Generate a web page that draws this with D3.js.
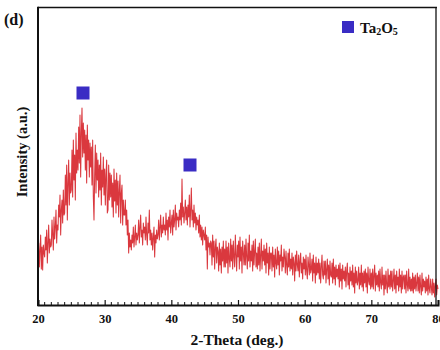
<!DOCTYPE html>
<html>
<head>
<meta charset="utf-8">
<script src="https://cdn.jsdelivr.net/npm/d3@7"></script>
<style>
  html, body { margin: 0; padding: 0; background: #fff; }
  svg { display: block; }
  text { font-family: "Liberation Serif", "Times New Roman", serif; font-weight: bold; fill: #111; }
</style>
</head>
<body>
<script>
// ---- data ----
const thetaStart = 20, thetaEnd = 80, thetaStep = 0.1;
const xTicks = [20, 30, 40, 50, 60, 70, 80];
const intensity = [
  45,62,38,55,70,36,58,35,60,52,
  48,68,55,75,42,62,80,52,66,58,
  60,85,70,55,88,66,78,95,62,80,
  75,100,88,110,70,95,105,82,115,90,
  92,130,100,140,85,122,145,100,132,112,
  115,155,108,165,125,150,105,172,132,155,
  135,178,142,190,128,172,197,148,182,152,
  175,135,170,122,180,145,165,128,162,138,
  158,120,165,108,85,130,160,112,152,125,
  145,108,140,115,152,100,135,118,148,110,
  136,100,130,145,92,95,140,105,132,108,
  130,98,122,88,136,104,125,92,132,100,
  124,88,115,130,82,112,120,80,105,90,
  90,105,80,95,70,85,52,72,58,65,
  55,70,62,78,58,68,80,60,72,65,
  70,85,62,78,90,68,75,60,82,72,
  78,65,88,70,60,82,72,95,65,75,
  60,72,55,68,78,48,70,62,75,66,
  70,85,65,78,90,68,80,72,88,75,
  80,70,92,75,85,65,88,78,95,72,
  82,90,70,95,78,85,100,75,92,85,
  88,78,95,85,102,80,126,88,98,82,
  92,105,85,98,80,100,88,110,78,95,
  117,85,95,78,100,82,92,75,88,80,
  85,72,90,68,80,65,78,60,75,70,
  65,78,55,70,36,68,58,62,50,64,
  62,40,70,48,64,36,58,66,42,58,
  54,34,62,40,56,32,58,44,64,38,
  56,38,64,42,58,32,62,46,38,66,
  44,60,36,64,48,38,70,50,34,60,
  48,64,36,68,44,58,32,64,52,40,
  60,40,66,48,36,62,44,70,38,54,
  44,60,34,64,40,54,66,38,52,36,
  58,40,62,34,50,66,36,54,44,60,
  40,56,32,62,42,52,30,58,36,52,
  52,34,58,38,50,28,56,42,36,58,
  40,54,30,50,44,60,34,48,38,56,
  48,32,54,40,30,52,38,56,34,46,
  36,52,30,48,42,24,50,34,54,40,
  34,50,28,44,52,32,42,26,48,36,
  46,30,50,34,26,48,40,30,52,32,
  36,46,24,50,32,42,22,48,30,42,
  32,46,26,42,22,38,50,30,26,44,
  30,44,22,36,46,26,40,20,44,30,
  28,42,22,46,26,38,20,40,28,36,
  26,40,18,42,24,36,16,40,26,34,
  24,38,18,34,42,20,32,16,38,24,
  34,20,40,18,32,12,38,22,34,20,
  24,38,16,32,20,40,18,32,14,34,
  22,36,18,32,12,38,24,20,36,16,
  32,18,36,16,30,40,14,32,20,30,
  18,34,14,36,22,16,38,20,30,10,
  30,16,34,20,12,36,18,30,16,34,
  18,34,14,24,36,16,30,12,34,20,
  28,14,36,18,30,12,34,16,28,30,
  16,30,12,34,20,14,36,16,28,14,
  26,14,32,12,28,16,30,14,22,32,
  14,28,12,30,18,10,32,14,26,18,
  24,12,28,14,26,10,30,16,12,26,
  18,10,26,12,22,8,20,26,10,20,
  16
];
const peakTheta = [26.75, 42.8];
const peakMarkY = [212, 140];

// ---- layout ----
const W = 440, H = 350;
const mLeft = 38, mRight = 438, mTop = 7, mBottom = 305;

const svg = d3.select("body").append("svg").attr("width", W).attr("height", H);

const x = d3.scaleLinear().domain([thetaStart, thetaEnd]).range([mLeft, mRight]);
const y = d3.scaleLinear().domain([0, mBottom - mTop]).range([mBottom, mTop]);

const thetas = d3.range(intensity.length).map(i => thetaStart + i * thetaStep);
const pts = thetas.map((t, i) => [t, intensity[i]]);

// line
svg.append("path")
  .datum(pts)
  .attr("fill", "none")
  .attr("stroke", "#da383e")
  .attr("stroke-width", 1.05)
  .attr("stroke-linejoin", "round")
  .attr("d", d3.line().x(d => x(d[0])).y(d => y(d[1])));

// frame: top and right
svg.append("line").attr("x1", mLeft).attr("x2", 437).attr("y1", mTop + 0.5).attr("y2", mTop + 0.5)
  .attr("stroke", "#111").attr("stroke-width", 1.6);
svg.append("line").attr("x1", 436).attr("x2", 436).attr("y1", mTop).attr("y2", mBottom)
  .attr("stroke", "#111").attr("stroke-width", 1.3);
// left
svg.append("line").attr("x1", mLeft).attr("x2", mLeft).attr("y1", mTop - 0.3).attr("y2", mBottom + 1)
  .attr("stroke", "#111").attr("stroke-width", 2);

// bottom axis
const xAxis = d3.axisBottom(x).tickValues(xTicks).tickSize(-5).tickPadding(9).tickFormat(d3.format("d"));
const gx = svg.append("g").attr("transform", `translate(0,${mBottom})`).call(xAxis);
gx.select(".domain").attr("stroke", "#111").attr("stroke-width", 2);
gx.selectAll(".tick line").attr("stroke", "#111").attr("stroke-width", 1.2);
gx.selectAll(".tick text").style("font-family", "Liberation Serif, serif").style("font-weight", "bold")
  .style("font-size", "12.5px").attr("fill", "#111");

const minor = d3.range(thetaStart + 1, thetaEnd, 1).filter(v => v % 10 !== 0);
svg.append("g").selectAll("line").data(minor).join("line")
  .attr("x1", d => x(d)).attr("x2", d => x(d))
  .attr("y1", mBottom).attr("y2", mBottom - 3)
  .attr("stroke", "#111").attr("stroke-width", 1);

// peak markers
svg.append("g").selectAll("rect").data(peakTheta).join("rect")
  .attr("x", d => x(d) - 6.5)
  .attr("y", (d, i) => y(peakMarkY[i]) - 6.5)
  .attr("width", 13).attr("height", 13)
  .attr("fill", "#3a2cc4");

// legend
svg.append("rect").attr("x", 342).attr("y", 21).attr("width", 12).attr("height", 12).attr("fill", "#3a2cc4");
const lg = svg.append("text").attr("x", 360).attr("y", 33).style("font-size", "15px");
lg.append("tspan").text("Ta");
lg.append("tspan").text("2").style("font-size", "10px").attr("dy", 2);
lg.append("tspan").text("O").attr("dy", -2);
lg.append("tspan").text("5").style("font-size", "10px").attr("dy", 2);

// titles
svg.append("text").attr("x", 237).attr("y", 345).attr("text-anchor", "middle")
  .style("font-size", "15.5px").text("2-Theta (deg.)");
svg.append("text").attr("transform", "translate(27,152) rotate(-90)").attr("text-anchor", "middle")
  .style("font-size", "14.5px").text("Intensity (a.u.)");
svg.append("text").attr("x", 4).attr("y", 25).style("font-size", "16px").text("(d)");
</script>
</body>
</html>
